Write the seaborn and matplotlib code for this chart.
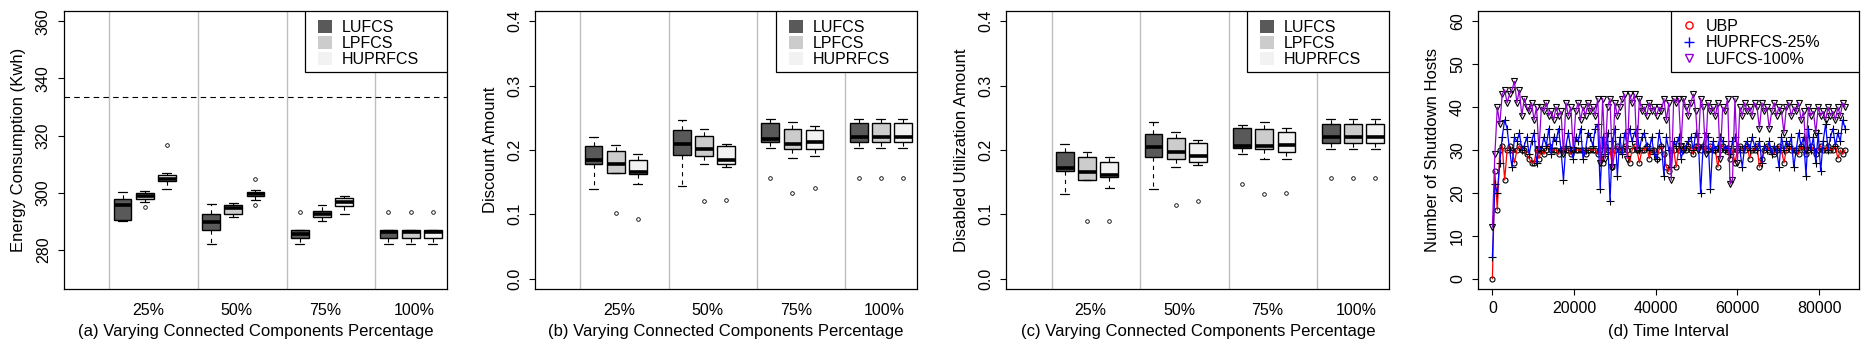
"""
Four-panel figure: energy / discount / disabled utilisation box plots
for LUFCS, LPFCS, HUPRFCS across connected-components percentages,
plus the shutdown-hosts time series.
"""

import numpy as np
import pandas as pd
import matplotlib
matplotlib.use("Agg")
import matplotlib.pyplot as plt
from matplotlib.patches import Patch, Rectangle
from matplotlib.lines import Line2D
import seaborn as sns

# ── Data ─────────────────────────────────────────────────────────────────────
percentages = ["25%", "50%", "75%", "100%"]
methods = ["LUFCS", "LPFCS", "HUPRFCS"]
method_colours = ["#595959", "#CCCCCC", "#F2F2F2"]

# box order: 25% (L, P, H), 50% (L, P, H), 75% (...), 100% (...)
positions = [1, 2, 3, 5, 6, 7, 9, 10, 11, 13, 14, 15]
separators = [0.4, 4.4, 8.4, 12.4]
label_pos = [2.15, 6.15, 10.15, 14.15]

# (a) energy consumption (Kwh)
energy_lo = [290.1, 296.7, 301.2, 282.0, 291.4, 297.4, 282.1, 290.1, 292.6, 282.0, 282.0, 282.0]
energy_q1 = [290.7, 297.9, 304.0, 286.9, 292.5, 298.8, 284.4, 291.4, 295.3, 284.2, 284.2, 284.2]
energy_med = [295.7, 298.9, 305.0, 289.8, 294.6, 299.5, 285.7, 292.5, 296.7, 286.2, 286.2, 286.2]
energy_q3 = [297.9, 299.8, 306.1, 292.5, 295.6, 300.3, 287.0, 293.5, 298.1, 286.9, 286.9, 286.9]
energy_hi = [300.4, 300.5, 306.8, 296.0, 296.3, 300.9, 287.2, 295.6, 299.0, 287.2, 287.2, 287.2]
energy_out = [[], [294.9], [316.9], [], [], [305.0, 295.6],
              [293.2], [], [], [293.2], [293.2], [293.2]]
energy_ubp = 333.7

# (b) discount amount
disc_lo = [0.139, 0.1638, 0.1473, 0.1437, 0.1783, 0.1736, 0.2031, 0.1871, 0.1902, 0.2031, 0.2031, 0.2031]
disc_q1 = [0.1778, 0.1638, 0.1623, 0.1917, 0.1902, 0.1783, 0.2119, 0.2016, 0.2016, 0.2119, 0.2119, 0.2119]
disc_med = [0.184, 0.1783, 0.1654, 0.2088, 0.201, 0.185, 0.2165, 0.2088, 0.2119, 0.2202, 0.2202, 0.2202]
disc_q3 = [0.2057, 0.199, 0.185, 0.2305, 0.2212, 0.2057, 0.2424, 0.233, 0.2305, 0.2424, 0.2424, 0.2424]
disc_hi = [0.2196, 0.2072, 0.1943, 0.246, 0.232, 0.2098, 0.2475, 0.2439, 0.2377, 0.2475, 0.2475, 0.2475]
disc_out = [[], [0.1018], [0.0935], [], [0.1204], [0.122],
            [0.156], [0.1328], [0.1406], [0.156], [0.156], [0.156]]

# (c) disabled utilization amount
util_lo = [0.1313, 0.153, 0.1406, 0.139, 0.1731, 0.1762, 0.1933, 0.1855, 0.1855, 0.201, 0.201, 0.201]
util_q1 = [0.1669, 0.153, 0.1576, 0.1886, 0.1855, 0.1809, 0.2026, 0.2016, 0.1964, 0.2103, 0.2103, 0.2103]
util_med = [0.1716, 0.1654, 0.1607, 0.2047, 0.1964, 0.1902, 0.2067, 0.2067, 0.2072, 0.2202, 0.2202, 0.2202]
util_q3 = [0.1964, 0.1886, 0.1809, 0.2253, 0.2181, 0.2103, 0.2336, 0.232, 0.2274, 0.2408, 0.2408, 0.2408]
util_hi = [0.2088, 0.1974, 0.1886, 0.2429, 0.2274, 0.215, 0.2393, 0.2429, 0.2341, 0.2475, 0.2475, 0.2475]
util_out = [[], [0.0894], [0.0894], [], [0.1142], [0.1204],
            [0.1468], [0.1313], [0.1328], [0.156], [0.156], [0.156]]

# (d) shutdown hosts, sampled every 600 s over one day
time_s = np.arange(0, 86401, 600)
ubp = [0, 25, 16, 30, 31, 23, 30, 31, 30, 27,
       30, 31, 30, 30, 29, 28, 27, 27, 30, 28,
       30, 29, 30, 31, 30, 30, 30, 29, 30, 30,
       30, 30, 29, 30, 30, 30, 30, 30, 29, 30,
       30, 30, 30, 29, 30, 27, 31, 30, 30, 26,
       30, 31, 30, 30, 31, 30, 27, 30, 31, 30,
       27, 30, 30, 31, 28, 30, 30, 28, 30, 31,
       29, 26, 25, 30, 30, 26, 30, 31, 30, 30,
       31, 30, 29, 31, 31, 30, 31, 30, 30, 31,
       30, 30, 26, 30, 31, 30, 30, 28, 30, 27,
       30, 31, 30, 30, 31, 28, 30, 30, 31, 26,
       28, 30, 31, 30, 30, 29, 30, 31, 30, 27,
       30, 31, 30, 30, 30, 29, 31, 30, 29, 30,
       31, 30, 29, 30, 31, 30, 30, 31, 30, 30,
       31, 28, 30, 29, 30]
huprfcs_25 = [5, 22, 20, 27, 33, 37, 35, 30, 26, 33,
              32, 34, 30, 31, 33, 29, 32, 34, 27, 31,
              30, 33, 31, 35, 29, 33, 32, 35, 30, 23,
              31, 34, 30, 28, 33, 32, 35, 28, 30, 34,
              33, 31, 35, 36, 21, 33, 29, 34, 18, 32,
              35, 24, 33, 29, 34, 31, 35, 32, 34, 35,
              30, 33, 34, 31, 30, 33, 29, 28, 34, 31,
              24, 33, 30, 26, 32, 31, 33, 28, 30, 31,
              32, 33, 30, 34, 33, 20, 31, 34, 33, 21,
              32, 30, 31, 33, 32, 30, 31, 29, 32, 33,
              31, 30, 26, 31, 32, 30, 33, 31, 30, 32,
              27, 31, 30, 32, 29, 31, 30, 26, 33, 30,
              32, 31, 33, 26, 30, 34, 31, 33, 24, 35,
              30, 33, 27, 34, 25, 32, 36, 30, 33, 35,
              31, 34, 32, 37, 35]
lufcs_100 = [12, 29, 40, 36, 43, 44, 41, 43, 44, 46,
             41, 44, 38, 42, 40, 39, 41, 37, 40, 30,
             40, 39, 41, 38, 39, 37, 40, 38, 39, 29,
             41, 38, 40, 30, 39, 41, 37, 40, 38, 41,
             39, 40, 38, 42, 27, 42, 28, 40, 42, 26,
             41, 38, 40, 42, 43, 28, 43, 41, 43, 30,
             42, 39, 40, 38, 41, 39, 40, 38, 40, 39,
             42, 37, 41, 23, 42, 41, 42, 31, 42, 40,
             38, 41, 43, 39, 30, 42, 40, 29, 41, 39,
             40, 38, 41, 28, 40, 39, 42, 22, 23, 42,
             27, 40, 38, 41, 39, 40, 38, 41, 40, 35,
             41, 39, 40, 35, 39, 41, 38, 40, 39, 34,
             40, 41, 38, 40, 39, 41, 37, 39, 30, 40,
             38, 39, 34, 40, 38, 39, 37, 40, 38, 39,
             37, 40, 38, 41, 40]

# ── Style ────────────────────────────────────────────────────────────────────
sns.set_style("white")
plt.rcParams.update({
    "font.family": ["Liberation Sans", "DejaVu Sans"],
    "axes.edgecolor": "black",
    "axes.linewidth": 0.9,
    "xtick.color": "black",
    "ytick.color": "black",
    "text.color": "black",
    "axes.labelcolor": "black",
    "lines.scale_dashes": False,
})
TICK_FS = 11.5
LABEL_FS = 12
LEGEND_FS = 11.5
W, H = 1870, 351


def px_axes(fig, left, right, top=11, bottom=289):
    return fig.add_axes([left / W, (H - bottom) / H, (right - left) / W, (bottom - top) / H])


def style_axes(ax, ylabel, xlabel, xticks_on):
    for sp in ax.spines.values():
        sp.set_color("black")
        sp.set_linewidth(0.9)
    ax.tick_params(axis="y", left=True, length=4, width=0.8, pad=5.5,
                   labelsize=TICK_FS, labelrotation=90)
    if xticks_on:
        ax.tick_params(axis="x", bottom=True, length=4, width=0.8, pad=4.5, labelsize=TICK_FS)
    else:
        ax.tick_params(axis="x", bottom=False, length=0, pad=10, labelsize=TICK_FS)
    ax.set_ylabel(ylabel, fontsize=LABEL_FS)
    ax.set_xlabel(xlabel, fontsize=LABEL_FS, va="top")
    ax.yaxis.set_label_coords(-0.098, 0.5)
    ax.xaxis.set_label_coords(0.5, -0.125)


def legend_frame(ax, x0):
    ax.add_patch(Rectangle((x0, 0.781), 1 - x0, 0.219, transform=ax.transAxes,
                           facecolor="white", edgecolor="black", linewidth=0.9, zorder=5))


def box_panel(ax, lo, q1, med, q3, hi, out, ylabel, xlabel, frame_x0):
    stats = [dict(whislo=a, q1=b, med=c, q3=d, whishi=e, fliers=f)
             for a, b, c, d, e, f in zip(lo, q1, med, q3, hi, out)]
    for s in separators:
        ax.axvline(s, color="#BEBEBE", linewidth=1.0, zorder=0.5)
    bp = ax.bxp(stats, positions=positions, widths=0.8, capwidths=0.4,
                patch_artist=True, showfliers=True, manage_ticks=False,
                boxprops=dict(linewidth=1.0, edgecolor="black"),
                medianprops=dict(color="black", linewidth=2.6, solid_capstyle="butt"),
                whiskerprops=dict(color="black", linewidth=0.8, linestyle=(0, (3.0, 3.0))),
                capprops=dict(color="black", linewidth=0.9),
                flierprops=dict(marker="o", markersize=2.6, markerfacecolor="none",
                                markeredgecolor="black", markeredgewidth=0.6))
    for i, patch in enumerate(bp["boxes"]):
        patch.set_facecolor(method_colours[i % 3])
        patch.set_zorder(2)
    ax.set_xlim(-1.64, 15.64)
    ax.set_xticks(label_pos)
    ax.set_xticklabels(percentages)
    style_axes(ax, ylabel, xlabel, xticks_on=False)

    legend_frame(ax, frame_x0)
    handles = [Patch(facecolor=c, edgecolor="none") for c in method_colours]
    # squares ~14 px, rows ~15 px apart, text ~11 px right of square
    leg = ax.legend(handles, methods, loc="upper left",
                    bbox_to_anchor=(frame_x0 + 0.01, 1.0),
                    frameon=False, fontsize=LEGEND_FS, borderaxespad=0, borderpad=0.55,
                    handlelength=0.875, handleheight=0.875, labelspacing=0.06,
                    handletextpad=0.6)
    leg.set_zorder(6)


fig = plt.figure(figsize=(W / 100, H / 100), dpi=100)
fig.patch.set_facecolor("white")

# ── (a) ──────────────────────────────────────────────────────────────────────
ax_a = px_axes(fig, 64, 447)
box_panel(ax_a, energy_lo, energy_q1, energy_med, energy_q3, energy_hi, energy_out,
          "Energy Consumption (Kwh)", "(a) Varying Connected Components Percentage", 0.630)
ax_a.axhline(energy_ubp, color="black", linewidth=0.8, linestyle=(0, (4.0, 3.0)), zorder=1)
ax_a.set_ylim(266.4, 363.6)
ax_a.set_yticks([280, 300, 320, 340, 360])

# ── (b) ──────────────────────────────────────────────────────────────────────
ax_b = px_axes(fig, 535.3, 917)
box_panel(ax_b, disc_lo, disc_q1, disc_med, disc_q3, disc_hi, disc_out,
          "Discount Amount", "(b) Varying Connected Components Percentage", 0.631)
ax_b.set_ylim(-0.016, 0.416)
ax_b.set_yticks([0.0, 0.1, 0.2, 0.3, 0.4])
ax_b.set_yticklabels(["0.0", "0.1", "0.2", "0.3", "0.4"])

# ── (c) ──────────────────────────────────────────────────────────────────────
ax_c = px_axes(fig, 1006.3, 1389.3)
box_panel(ax_c, util_lo, util_q1, util_med, util_q3, util_hi, util_out,
          "Disabled Utilization Amount", "(c) Varying Connected Components Percentage", 0.629)
ax_c.set_ylim(-0.016, 0.416)
ax_c.set_yticks([0.0, 0.1, 0.2, 0.3, 0.4])
ax_c.set_yticklabels(["0.0", "0.1", "0.2", "0.3", "0.4"])

# ── (d) ──────────────────────────────────────────────────────────────────────
ax_d = px_axes(fig, 1478.3, 1859.3)
series = [
    ("UBP", ubp, "#FF0000", "o", 3.6),
    ("HUPRFCS-25%", huprfcs_25, "#0000FF", "+", 6.0),
    ("LUFCS-100%", lufcs_100, "#9400D3", "v", 4.6),
]
ts = pd.DataFrame({"Time": np.tile(time_s, 3),
                   "Hosts": ubp + huprfcs_25 + lufcs_100,
                   "Method": np.repeat([s[0] for s in series], len(time_s))})
z = 2
for name, _, colour, marker, ms in series:
    sub = ts[ts["Method"] == name]
    ax_d.plot(sub["Time"], sub["Hosts"], linestyle="none", marker=marker, markersize=ms,
              markerfacecolor="none", markeredgecolor="black", markeredgewidth=0.8, zorder=z)
    sns.lineplot(data=sub, x="Time", y="Hosts", ax=ax_d, color=colour, linewidth=0.9,
                 estimator=None, sort=False, legend=False, zorder=z + 0.5)
    z += 1

ax_d.set_xlim(-3456, 89856)
ax_d.set_ylim(-2.4, 62.4)
ax_d.set_xticks([0, 20000, 40000, 60000, 80000])
ax_d.set_yticks([0, 10, 20, 30, 40, 50, 60])
style_axes(ax_d, "Number of Shutdown Hosts", "(d) Time Interval", xticks_on=True)
ax_d.yaxis.set_label_coords(-0.100, 0.5)

legend_frame(ax_d, 0.5066)
handles_d = [Line2D([], [], linestyle="none", marker=m, markersize=ms + 1.6, color=c,
                    markerfacecolor="none", markeredgewidth=1.0)
             for _, _, c, m, ms in series]
leg_d = ax_d.legend(handles_d, [s[0] for s in series], loc="upper left",
                    bbox_to_anchor=(0.5066 + 0.01, 1.0), frameon=False, fontsize=LEGEND_FS,
                    borderaxespad=0, borderpad=0.5, handlelength=0.7, labelspacing=0.08,
                    handletextpad=0.74)
leg_d.set_zorder(6)

for ax in (ax_a, ax_b, ax_c, ax_d):
    for lab in ax.get_yticklabels():
        lab.set_va("center")

fig.savefig("out.png", dpi=100, facecolor="white")
